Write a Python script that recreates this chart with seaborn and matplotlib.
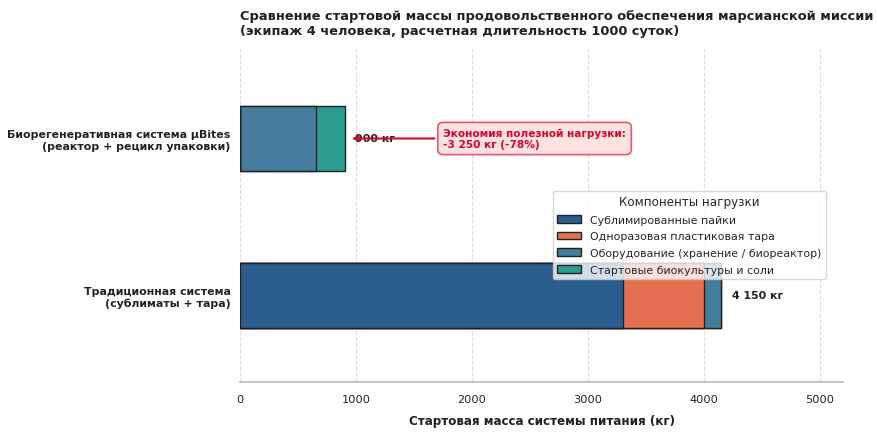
import matplotlib
matplotlib.use("Agg")
import matplotlib.pyplot as plt
from matplotlib.patches import Patch
import seaborn as sns
import numpy as np
import pandas as pd

# données (kg)
systemes = ["Биорегенеративная система µBites\n(реактор + рецикл упаковки)",
            "Традиционная система\n(сублиматы + тара)"]
composants = ["Сублимированные пайки", "Одноразовая пластиковая тара",
              "Оборудование (хранение / биореактор)", "Стартовые биокультуры и соли"]
sublimes = [0, 3300]
plastique = [0, 700]
equipement = [650, 150]
cultures = [250, 0]
totaux_labels = ["900 кг", "4 150 кг"]
couleurs = ["#2b5d8f", "#e76f51", "#457b9d", "#2a9d8f"]

sns.set_theme(style="white")
plt.rcParams['font.family'] = ['DejaVu Sans']

valeurs = np.array([sublimes, plastique, equipement, cultures])
cumul = np.cumsum(valeurs, axis=0)

fig, ax = plt.subplots(figsize=(8.77, 4.35), dpi=100)
fig.subplots_adjust(left=0.274, right=0.961, bottom=0.12, top=0.885)

# empilement : on dessine du cumul le plus grand au plus petit
for i in range(len(composants) - 1, -1, -1):
    df = pd.DataFrame({"systeme": systemes, "masse": cumul[i]})
    sns.barplot(data=df, y="systeme", x="masse", orient="h", ax=ax,
                color=couleurs[i], saturation=1, width=0.42,
                edgecolor="#222222", linewidth=1.0, zorder=2)

totaux = cumul[-1]
for j, (t, lab) in enumerate(zip(totaux, totaux_labels)):
    ax.text(t + 90, j, lab, va="center", ha="left", fontsize=7.9,
            fontweight="bold", color="#222222", zorder=3)

ax.annotate("Экономия полезной нагрузки:\n-3 250 кг (-78%)",
            xy=(totaux[0] + 40, 0), xytext=(1750, 0),
            va="center", ha="left", fontsize=7.6, fontweight="bold",
            color="#d90429",
            bbox=dict(boxstyle="round,pad=0.5", fc="#fde2e2", ec="#e05a6a", lw=1.2),
            arrowprops=dict(arrowstyle="-|>", color="#d90429", lw=1.5),
            zorder=4)

ax.set_xlim(0, 5200)
ax.set_ylim(1.55, -0.57)
ax.set_xticks(range(0, 5001, 1000))
ax.tick_params(axis="x", labelsize=8.2, colors="#222222", pad=3)
ax.tick_params(axis="y", labelsize=7.9, length=0, pad=7)
for t in ax.get_yticklabels():
    t.set_fontweight("bold")
    t.set_color("#222222")
ax.set_ylabel("")
ax.set_xlabel("Стартовая масса системы питания (кг)", fontsize=8.6,
              fontweight="bold", labelpad=7, color="#222222")
ax.grid(True, axis="x", linestyle="--", color="#dddddd", linewidth=0.8, zorder=0)
ax.set_axisbelow(True)
for s in ["top", "right", "left"]:
    ax.spines[s].set_visible(False)
ax.spines["bottom"].set_color("#bbbbbb")

ax.set_title("Сравнение стартовой массы продовольственного обеспечения марсианской миссии\n"
             "(экипаж 4 человека, расчетная длительность 1000 суток)",
             loc="left", fontsize=9.4, fontweight="bold", color="#222222", pad=11)

poignees = [Patch(facecolor=c, edgecolor="#222222", label=l) for c, l in zip(couleurs, composants)]
leg = ax.legend(handles=poignees, title="Компоненты нагрузки", loc="upper right",
                bbox_to_anchor=(0.972, 0.574), fontsize=7.9, title_fontsize=8.6,
                frameon=True, framealpha=0.8, handlelength=2.2, borderaxespad=0,
                labelspacing=0.6)
leg.get_frame().set_edgecolor("#cccccc")

fig.savefig("out.png", dpi=100)
